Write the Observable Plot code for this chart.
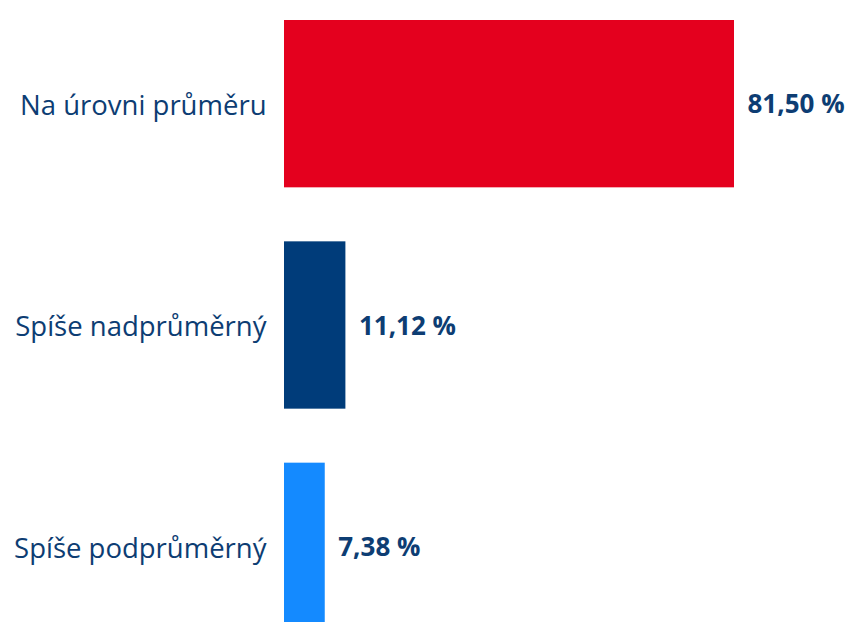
<!DOCTYPE html>
<html><head><meta charset="utf-8">
<script src="https://cdn.jsdelivr.net/npm/d3@7"></script>
<script src="https://cdn.jsdelivr.net/npm/@observablehq/plot@0.6"></script>
<style>
body{margin:0;background:#fff;}
svg{overflow:visible}
</style></head>
<body><div id="chart"></div>
<script>
const categories = ["Na úrovni průměru", "Spíše nadprůměrný", "Spíše podprůměrný"];
const values = [81.50, 11.12, 7.38];
const colors = ["#e4001e", "#003c7a", "#148aff"];

const data = categories.map((c, i) => ({cat: c, v: values[i], color: colors[i]}));
const fmt = v => v.toFixed(2).replace(".", ",") + " %";
const textColor = "#0d3d73";

const chart = Plot.plot({
  width: 849,
  height: 622,
  margin: 0,
  style: {fontFamily: "'Open Sans', 'Noto Sans', sans-serif", background: "#fff", overflow: "visible"},
  x: {domain: [0, 81.5], range: [284, 734], axis: null},
  y: {domain: categories, range: [20, 630], paddingInner: 0.244, paddingOuter: 0, align: 0, round: false, axis: null},
  marks: [
    Plot.barX(data, {x: "v", y: "cat", fill: d => d.color}),
    Plot.text(data, {x: 0, y: "cat", text: "cat", textAnchor: "end", dx: -18, dy: 2, fill: textColor, fontSize: 27.5}),
    Plot.text(data, {x: "v", y: "cat", text: d => fmt(d.v), textAnchor: "start", dx: 13, dy: 1, fill: textColor, fontSize: 26, fontWeight: "bold"})
  ]
});
document.getElementById("chart").append(chart);
</script></body></html>
